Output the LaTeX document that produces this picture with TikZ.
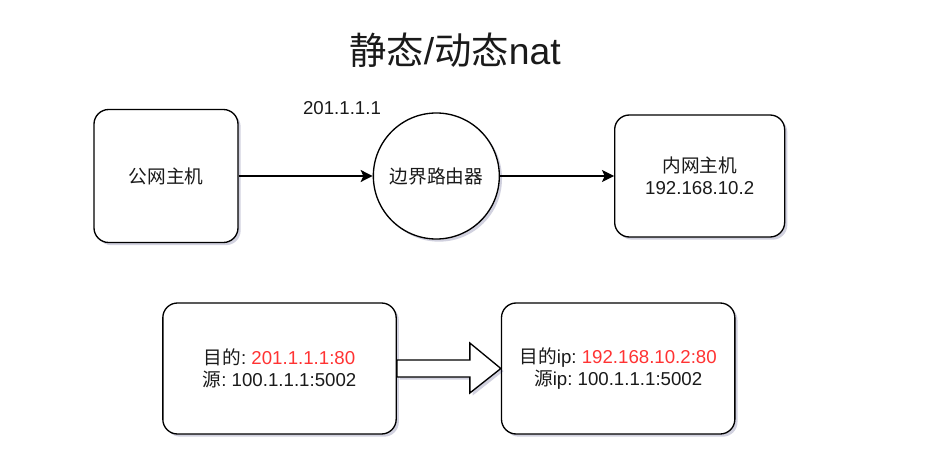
\documentclass[tikz,border=0pt]{standalone}
\usepackage{fontspec}
\setmainfont{Liberation Sans}
\newfontfamily\cjk{Noto Sans CJK SC}
\usepackage{tikz}
\usetikzlibrary{arrows.meta,positioning,calc,shadows}
\definecolor{inktext}{HTML}{1A1A1A}
\definecolor{natred}{HTML}{FF3333}
\frenchspacing

\begin{document}
\begin{tikzpicture}[x=0.75pt, y=-0.75pt, node distance = 0pt and 100.5pt,
    font=\fontsize{14}{16.5}\selectfont, text=inktext,
    softshadow/.style={drop shadow={shadow xshift=2pt,shadow yshift=-2pt,opacity=0.18,fill=black!70!blue}},
    hostbox/.style={rectangle,rounded corners=11pt,line width=1pt,draw=black,fill=white,align=center,softshadow},
    router/.style={circle,inner sep=0pt,minimum size=94.5pt,line width=1pt,draw=black,fill=white,softshadow},
    pktbox/.style={hostbox,minimum width=175pt,minimum height=98.25pt,font=\fontsize{14}{17}\selectfont},
    link/.style={line width=1pt,-{Stealth[length=9pt,width=9pt,inset=2pt]}},
   ]
    \useasboundingbox (0,0) rectangle (937,466);

    \node (title) at (455,50) {\fontsize{28}{32}\selectfont{\cjk 静态}/{\cjk 动态}nat};

    \node (pub)    [hostbox,minimum width=108pt,minimum height=99.75pt] at (166,176) {\cjk 公网主机};
    \node (border) [router,right=of pub] {\cjk 边界路由器};
    \node (priv)   [hostbox,minimum width=127.5pt,minimum height=91.5pt,right=85.5pt of border] {{\cjk 内网主机}\\192.168.10.2};
    \node (wanip)  at (342,108) {201.1.1.1};

    \draw[link] (pub.east) -- (border.west);
    \draw[link] (border.east) -- (priv.west);

    \node (lpkt) [pktbox] at (279.5,368.5) {{\cjk 目的}: \textcolor{natred}{201.1.1.1:80}\\{\cjk 源}: 100.1.1.1:5002};
    \node (rpkt) [pktbox,right=78pt of lpkt] {{\cjk 目的}ip: \textcolor{natred}{192.168.10.2:80}\\{\cjk 源}ip: 100.1.1.1:5002};

    % hollow translation arrow
    \draw[line width=1pt,fill=white,softshadow] ($(lpkt.east)+(0,-8.5)$) -- ++(73,0) -- ++(0,-17) -- (rpkt.west)
          -- ++(-31,24.5) -- ++(0,-16) -- ($(lpkt.east)+(0,8.5)$) -- cycle;
\end{tikzpicture}
\end{document}
